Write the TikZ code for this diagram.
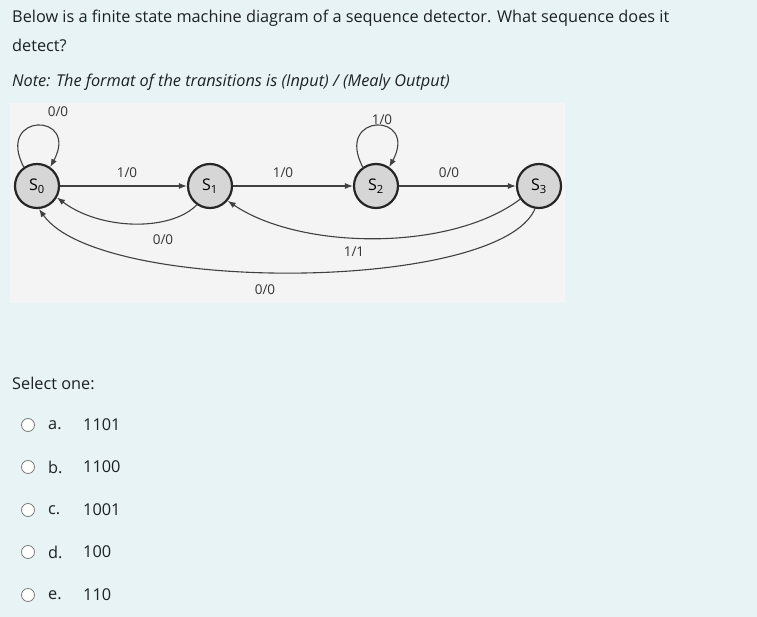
\documentclass[tikz,border=0pt]{standalone}
\usepackage{fontspec}
\setmainfont{Open Sans}
\usetikzlibrary{arrows.meta}
\definecolor{pagebg}{HTML}{E7F3F5}
\definecolor{imgbg}{HTML}{F4F4F4}
\definecolor{stfill}{HTML}{D6D6D6}
\definecolor{txt}{HTML}{1D2125}
\begin{document}
\begin{tikzpicture}[x=1pt,y=-1pt,
  qtext/.style={anchor=west,inner sep=0,font=\fontsize{16.3}{19}\selectfont,text=txt},
  state/.style={circle,draw=black!85,line width=2.2pt,fill=stfill,minimum size=44pt,inner sep=0,font=\fontsize{16}{18}\selectfont},
  lbl/.style={inner sep=0,font=\fontsize{13.5}{15}\selectfont,text=black!80},
  edge/.style={draw=black!75,line width=1.1pt,-{Latex[length=8pt,width=6pt]}},
  radio/.style={circle,draw=black!55,line width=0.7pt,fill=white,minimum size=13pt,inner sep=0}]
\fill[pagebg] (0,0) rectangle (757,617);
\useasboundingbox (0,0) rectangle (757,617);
\node[qtext] (q1) at (12,18) {Below is a finite state machine diagram of a sequence detector. What sequence does it};
\node[qtext] (q2) at (12,45) {detect?};
\node[qtext] (q3) at (12,82) {\itshape Note: The format of the transitions is (Input) / (Mealy Output)};
\fill[imgbg] (10,103) rectangle (565,303);
\node[state] (s0) at (37,186) {S\textsubscript{0}};
\node[state] (s1) at (210,186) {S\textsubscript{1}};
\node[state] (s2) at (376,186) {S\textsubscript{2}};
\node[state] (s3) at (539,186) {S\textsubscript{3}};
\draw[edge] (s0.125) .. controls (-5,112) and (80,112) .. (s0.55);
\draw[edge] (s2.125) .. controls (334,112) and (419,112) .. (s2.55);
\draw[edge] (s0) -- (s1);
\draw[edge] (s1) -- (s2);
\draw[edge] (s2) -- (s3);
\draw[edge] (s1.235) .. controls (170,232) and (100,230) .. (s0.330);
\draw[edge] (s3.215) .. controls (450,252) and (300,250) .. (s1.320);
\draw[edge] (s3.260) .. controls (500,292) and (100,295) .. (s0.275);
\node[lbl] (l1) at (58,112) {0/0};
\node[lbl] (l2) at (127,173) {1/0};
\node[lbl] (l3) at (283,173) {1/0};
\node[lbl] (l4) at (382,120) {1/0};
\node[lbl] (l5) at (449,173) {0/0};
\node[lbl] (l6) at (163,240) {0/0};
\node[lbl] (l7) at (354,252) {1/1};
\node[lbl] (l8) at (265,290) {0/0};
\node[qtext] (sel) at (12,383) {Select one:};
\foreach \y/\l/\v [count=\i] in {425/a./1101,467/b./1100,510/c./1001,552/d./100,595/e./110}{
  \node[radio] (r\i) at (28,\y) {};
  \node[qtext] (o\i) at (48,\y) {\l};
  \node[qtext] (v\i) at (83,\y) {\v};
}
\end{tikzpicture}
\end{document}
